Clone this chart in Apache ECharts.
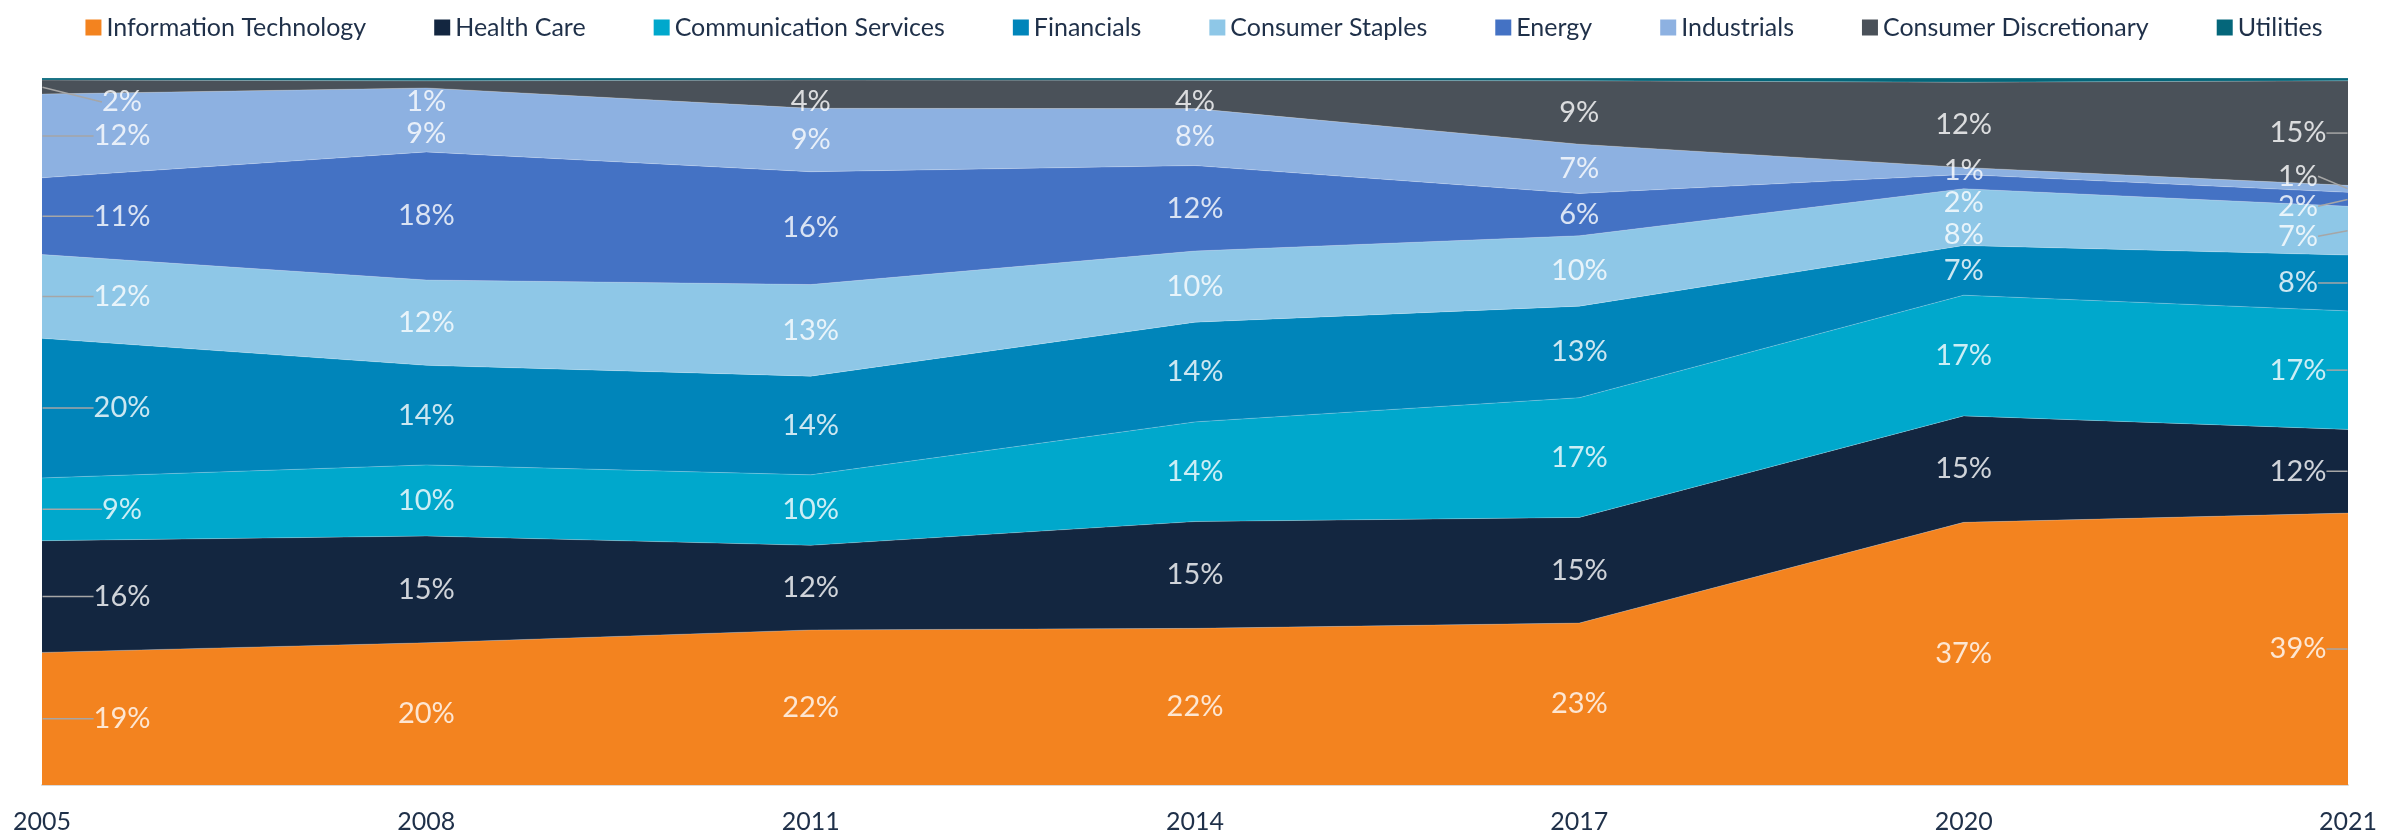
<!DOCTYPE html>
<html>
<head>
<meta charset="utf-8">
<script src="https://cdn.jsdelivr.net/npm/echarts@6/dist/echarts.min.js"></script>
<style>
  html, body { margin: 0; padding: 0; background: #fff; }
  #main { width: 2408px; height: 837px; }
</style>
</head>
<body>
<div id="main"></div>
<script>
// sector weights (%) per year, as labelled in the picture
var years = ['2005', '2008', '2011', '2014', '2017', '2020', '2021'];
var infoTech     = [19, 20, 22, 22, 23, 37, 39];
var healthCare   = [16, 15, 12, 15, 15, 15, 12];
var commServices = [9, 10, 10, 14, 17, 17, 17];
var financials   = [20, 14, 14, 14, 13, 7, 8];
var consStaples  = [12, 12, 13, 10, 10, 8, 7];
var energy       = [11, 18, 16, 12, 6, 2, 2];
var industrials  = [12, 9, 9, 8, 7, 1, 1];
var consDisc     = [2, 1, 4, 4, 9, 12, 15];
var utilities    = [0.3, 0.4, 0.3, 0.3, 0.4, 0.6, 0.4];   // thin band on top, no label

var names = ['Information Technology', 'Health Care', 'Communication Services', 'Financials',
             'Consumer Staples', 'Energy', 'Industrials', 'Consumer Discretionary', 'Utilities'];
var values = [infoTech, healthCare, commServices, financials, consStaples, energy, industrials, consDisc, utilities];
var colors = ['#F3831F', '#132640', '#00A8CC', '#0085BA', '#8EC7E7', '#4472C4', '#8DB1E1', '#4A5159', '#04667A'];

var chartW = 2408, chartH = 837;
var gridTop = 78, gridBottom = 52, gridLeft = 42, gridRight = 60;

// normalise every column to 100%
var totals = years.map(function (y, i) {
    var s = 0;
    for (var k = 0; k < values.length; k++) s += values[k][i];
    return s;
});
var norm = values.map(function (arr) {
    return arr.map(function (v, i) { return v / totals[i] * 100; });
});

// label anchors: middle of each band
var mids = [];
var cum = years.map(function () { return 0; });
for (var k = 0; k < norm.length; k++) {
    mids.push(norm[k].map(function (v, i) { return cum[i] + v / 2; }));
    for (var i = 0; i < years.length; i++) cum[i] += norm[k][i];
}

// spread overlapping labels in each column (in pixels)
var plotH = chartH - gridTop - gridBottom;
function toPx(v) { return gridTop + (100 - v) / 100 * plotH; }

var lastIdx = years.length - 1;
var labelled = 8;
var dyOff = [];
for (var k = 0; k < labelled; k++) dyOff.push([]);
for (var i = 0; i < years.length; i++) {
    var edge = i === 0 || i === lastIdx;
    var gap = edge ? 30 : 32;
    var items = [];
    for (var k = labelled - 1; k >= 0; k--) items.push({ k: k, a: toPx(mids[k][i]) });
    var clusters = items.map(function (it) { return { list: [it], top: it.a }; });
    function place(c) {
        if (!edge) { c.top = c.list[0].a; return; }   // inner columns: push down only
        var s = 0;
        c.list.forEach(function (it, j) { s += it.a - j * gap; });
        c.top = s / c.list.length;
    }
    var merged = true;
    while (merged) {
        merged = false;
        for (var c = 0; c < clusters.length - 1; c++) {
            var p = clusters[c], n = clusters[c + 1];
            if (p.top + p.list.length * gap > n.top) {
                p.list = p.list.concat(n.list);
                place(p);
                clusters.splice(c + 1, 1);
                merged = true;
                break;
            }
        }
    }
    var minY = gridTop + 24;
    var last = -Infinity;
    clusters.forEach(function (c) {
        var y0 = Math.max(c.top, minY, last);
        c.list.forEach(function (it, j) {
            var y = y0 + j * gap;
            dyOff[it.k][i] = y - it.a;
            last = y + gap;
        });
    });
}

var series = [];
for (var k = 0; k < names.length; k++) {
    series.push({
        name: names[k],
        type: 'line',
        stack: 'total',
        symbol: 'none',
        data: norm[k],
        itemStyle: { color: colors[k] },
        lineStyle: { width: 1, color: 'rgba(255,255,255,0.22)' },
        areaStyle: { color: colors[k], opacity: 1 },
        emphasis: { disabled: true },
        z: 2
    });
}
for (var k = 0; k < labelled; k++) {
    (function (k) {
        series.push({
            name: names[k] + ' label',
            type: 'scatter',
            symbolSize: 1,
            itemStyle: { color: 'rgba(0,0,0,0)' },
            data: mids[k].map(function (m, i) {
                return {
                    value: [i, m],
                    raw: values[k][i],
                    labelLine: { show: i === 0 || i === lastIdx }
                };
            }),
            label: {
                show: true,
                position: 'inside',
                color: '#ffffff',
                fontFamily: 'Lato',
                fontSize: 29,
                padding: [0, 8],
                formatter: function (p) { return p.data.raw + '%'; }
            },
            labelLine: { show: true, lineStyle: { color: '#A6A6A6', width: 1.5 } },
            labelLayout: function (p) {
                var dx = p.dataIndex === 0 ? 80 : (p.dataIndex === lastIdx ? -50 : 0);
                return { dx: dx, dy: dyOff[k][p.dataIndex] };
            },
            emphasis: { disabled: true },
            z: 5
        });
    })(k);
}

var chart = echarts.init(document.getElementById('main'));
chart.setOption({
    backgroundColor: '#ffffff',
    animation: false,
    legend: {
        data: names,
        top: 10,
        left: 'center',
        icon: 'rect',
        itemWidth: 16,
        itemHeight: 16,
        itemGap: 68,
        textStyle: { color: '#1F3049', fontFamily: 'Lato', fontSize: 25 }
    },
    grid: { left: gridLeft, right: gridRight, top: gridTop, bottom: gridBottom },
    xAxis: {
        type: 'category',
        boundaryGap: false,
        data: years,
        axisLine: { lineStyle: { color: '#D9D9D9', width: 2 } },
        axisTick: { show: false },
        axisLabel: { color: '#1F3049', fontFamily: 'Lato', fontSize: 25, margin: 24 },
        splitLine: { show: false }
    },
    yAxis: {
        type: 'value',
        min: 0,
        max: 100,
        show: false
    },
    series: series
});
</script>
</body>
</html>
